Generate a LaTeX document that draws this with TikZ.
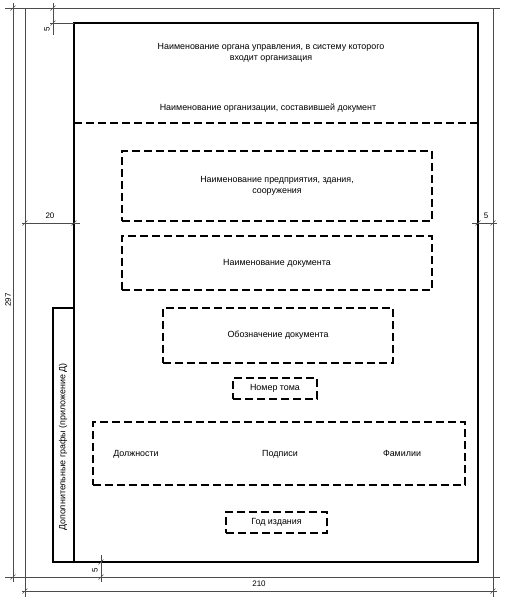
\documentclass[tikz,border=0pt]{standalone}
\usepackage{fontspec}
\setmainfont{Liberation Sans}
\usetikzlibrary{positioning,calc}
\begin{document}
\begin{tikzpicture}[x=1pt,y=-1pt]

	\tikzstyle{kontur} = [line width=1.3pt]
	\tikzstyle{shtrih} = [line width=1.2pt,dash pattern=on 8pt off 4pt]
	\tikzstyle{pole} = [shtrih,draw,inner sep=0pt,align=center,font=\fontsize{8.9}{11}\selectfont]
	\tikzstyle{nadpis} = [align=center,inner sep=0pt,font=\fontsize{8.9}{11.5}\selectfont]
	\tikzstyle{tonkaya} = [line width=0.45pt,black!70]
	\tikzstyle{razmer} = [inner sep=0pt,font=\fontsize{8}{9}\selectfont]

	\useasboundingbox (0,0) rectangle (504,600);

	% list A4
	\coordinate (lv) at (25,8);
	\coordinate (pv) at (493,8);
	\coordinate (ln) at (25,577);
	\coordinate (pn) at (493,577);

	\draw[tonkaya] (5,8) -- (500,8);
	\draw[tonkaya] (5,577) -- (500,577);
	\draw[tonkaya] (lv) -- (25,597);
	\draw[tonkaya] (pv) -- (493,597);

	% ramka
	\coordinate (rv) at (74,23);
	\coordinate (rn) at (478,562);
	\draw[kontur] (rv) rectangle (rn);
	\draw[kontur] (53,308) rectangle (74,562);
	\draw[shtrih] (74,123) -- (478,123);

	% razmery
	\draw[tonkaya] (13,3) -- (13,582);
	\draw[tonkaya] (22,591) -- (497,591);
	\draw[tonkaya] (50,23) -- (rv);
	\draw[tonkaya] (53,3) -- (53,35);
	\draw[tonkaya] (22,223) -- (80,223);
	\draw[tonkaya] (472,223) -- (497,223);
	\draw[tonkaya] (101,555) -- (101,582);
	\foreach \p in {(13,8),(13,577),(25,591),(493,591),(53,8),(53,23),
		(25,223),(74,223),(478,223),(493,223),(101,562),(101,577)}
		\draw[tonkaya] \p ++(-2.5,2.5) -- ++(5,-5);

	\node[razmer,rotate=90] (r297) at (8,300) {297};
	\node[razmer] (r210) at (259,584) {210};
	\node[razmer,rotate=90] (r5v) at (47,29) {5};
	\node[razmer] (r20) at (50,216) {20};
	\node[razmer] (r5p) at (486,216) {5};
	\node[razmer,rotate=90] (r5n) at (95,570) {5};

	% nadpisi
	\node[nadpis] (organ) at (271,53) {Наименование органа управления, в систему которого\\входит организация};
	\node[nadpis] (org) at (268,108) {Наименование организации, составившей документ};
	\node[nadpis,rotate=90] (dop) at (63,447) {Дополнительные графы (приложение Д)};

	% polya
	\node[pole,minimum width=310,minimum height=70] (pred) at (277,186) {Наименование предприятия, здания,\\сооружения};
	\node[pole,minimum width=310,minimum height=54] (naim) at (277,263) {Наименование документа};
	\node[pole,minimum width=230,minimum height=55] (oboz) at (278,335.5) {Обозначение документа};
	\node[pole,minimum width=84,minimum height=21] (tom) at (275,388.5) {Номер тома};
	\node[pole,minimum width=372,minimum height=63] (podp) at (279,453.5) {};
	\node[nadpis,anchor=base] (dolzh) at (136,456) {Должности};
	\node[nadpis,anchor=base] (podpisi) at (280,456) {Подписи};
	\node[nadpis,anchor=base] (fam) at (402,456) {Фамилии};
	\node[pole,minimum width=101,minimum height=21] (god) at (276.5,522.5) {Год издания};

\end{tikzpicture}
\end{document}
